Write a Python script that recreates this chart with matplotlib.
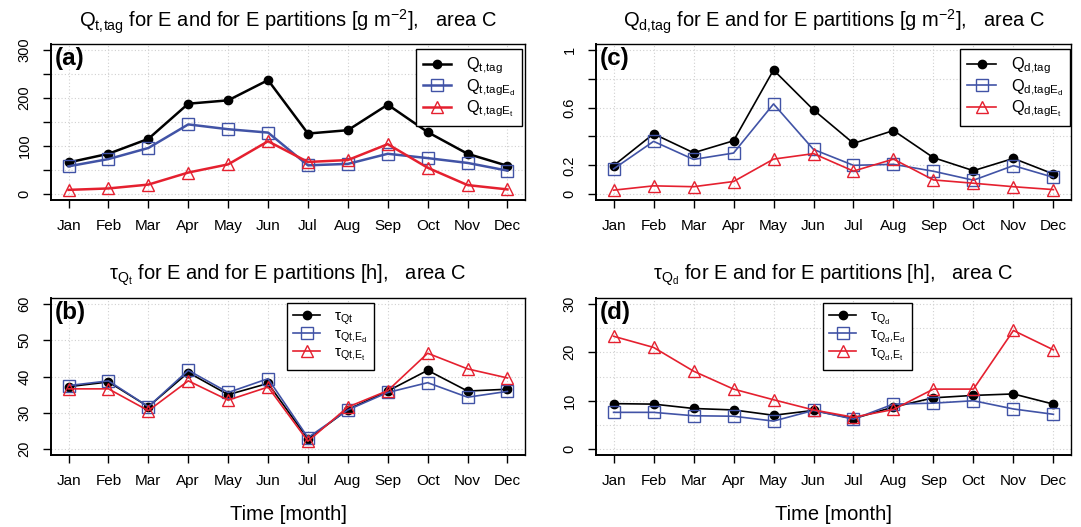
import matplotlib.pyplot as plt
import numpy as np

plt.rcParams['font.family'] = ['Liberation Sans', 'DejaVu Sans']
plt.rcParams['mathtext.fontset'] = 'custom'
plt.rcParams['mathtext.rm'] = 'Liberation Sans'
plt.rcParams['mathtext.it'] = 'Liberation Sans:italic'
plt.rcParams['mathtext.bf'] = 'Liberation Sans:bold'

months = ['Jan', 'Feb', 'Mar', 'Apr', 'May', 'Jun',
          'Jul', 'Aug', 'Sep', 'Oct', 'Nov', 'Dec']

# (a) total tagged water [g m-2]
qt_tag = [66, 84, 115, 188, 195, 237, 126, 133, 186, 129, 84, 59]
qt_tag_ed = [58, 73, 96, 145, 135, 128, 60, 63, 84, 75, 65, 49]
qt_tag_et = [9, 12, 20, 45, 62, 110, 67, 71, 104, 55, 19, 10]

# (c) tagged dust [g m-2]
qd_tag = [0.198, 0.418, 0.287, 0.370, 0.860, 0.584, 0.352, 0.441, 0.253, 0.163, 0.248, 0.140]
qd_tag_ed = [0.175, 0.366, 0.241, 0.285, 0.625, 0.310, 0.200, 0.207, 0.159, 0.097, 0.198, 0.117]
qd_tag_et = [0.028, 0.058, 0.052, 0.088, 0.243, 0.281, 0.160, 0.243, 0.099, 0.076, 0.052, 0.032]

# (b) residence time of Qt [h]
tau_qt = [37.2, 38.5, 31.7, 41.1, 35.0, 38.1, 22.8, 30.9, 36.0, 41.7, 36.0, 36.5]
tau_qt_ed = [37.5, 38.8, 31.7, 41.7, 35.6, 39.4, 23.2, 30.8, 35.6, 38.3, 34.3, 35.9]
tau_qt_et = [36.6, 36.6, 30.6, 38.8, 33.5, 37.1, 22.2, 31.6, 36.1, 46.4, 42.1, 39.6]

# (d) residence time of Qd [h]
tau_qd = [9.4, 9.3, 8.4, 8.1, 7.0, 8.0, 6.3, 8.7, 10.6, 11.1, 11.4, 9.3]
tau_qd_ed = [7.6, 7.6, 6.9, 6.8, 5.8, 8.0, 6.2, 9.3, 9.5, 10.0, 8.3, 7.2]
tau_qd_et = [23.3, 21.0, 16.1, 12.4, 10.2, 8.1, 6.6, 8.2, 12.4, 12.4, 24.5, 20.5]

BLUE = '#4153a6'
RED = '#e5202f'
W, H = 1081, 527


def make_axes(fig, x0, y0, x1, y1):
    # pixel box (top-left origin) -> figure fraction
    return fig.add_axes([x0 / W, (H - y1) / H, (x1 - x0) / W, (y1 - y0) / H])


def panel(ax, series, labels, lw, ylim, yticks, ylabels, ygrid, letter, title,
          leg_anchor, leg_loc, leg_size, xlabel=False):
    x = np.arange(1, 13)
    styles = [dict(color='black', marker='o', ms=6, mfc='black', mec='black'),
              dict(color=BLUE, marker='s', ms=8, mfc='none', mec=BLUE, mew=1),
              dict(color=RED, marker='^', ms=9, mfc='none', mec=RED, mew=1)]
    for y, lab, st in zip(series, labels, styles):
        ax.plot(x, y, lw=lw, label=lab, **st)

    for gx in x:
        ax.axvline(gx, color='#d0d0d0', lw=0.8, ls=(0, (1, 2)), zorder=0)
    for gy in ygrid:
        ax.axhline(gy, color='#d0d0d0', lw=0.8, ls=(0, (1, 2)), zorder=0)

    ax.set_xlim(0.56, 12.44)
    ax.set_ylim(*ylim)
    ax.set_xticks(x)
    ax.set_xticklabels(months)
    ax.set_yticks(yticks)
    ax.set_yticklabels(ylabels)
    plt.setp(ax.get_yticklabels(), rotation=90, va='center')
    ax.tick_params(direction='out', length=6, width=1, labelsize=11)
    ax.tick_params(axis='x', pad=8)
    ax.tick_params(axis='y', pad=8, labelsize=10.5)
    for side in ['top', 'right']:
        ax.spines[side].set_linewidth(1.0)
    for side in ['left', 'bottom']:
        ax.spines[side].set_linewidth(1.4)

    ax.text(0.008, 0.905, letter, transform=ax.transAxes, fontsize=17.5,
            fontweight='bold', ha='left', va='center')
    ax.text(0.5, 1.143, title, transform=ax.transAxes, fontsize=14.5,
            ha='center', va='center')
    if xlabel:
        ax.text(0.5, -0.376, 'Time [month]', transform=ax.transAxes,
                fontsize=14.5, ha='center', va='center')

    leg = ax.legend(loc=leg_loc, bbox_to_anchor=leg_anchor, borderaxespad=0,
                    fancybox=False, framealpha=1, edgecolor='black',
                    fontsize=leg_size, numpoints=1, handlelength=1.75,
                    labelspacing=0.05, borderpad=0.42, handletextpad=0.9)
    leg.get_frame().set_linewidth(1.0)


fig = plt.figure(figsize=(W / 100, H / 100), dpi=100)

ax_a = make_axes(fig, 51, 44, 525, 200)
ax_c = make_axes(fig, 596, 44, 1071, 200)
ax_b = make_axes(fig, 51, 298, 525, 455)
ax_d = make_axes(fig, 596, 298, 1071, 455)

panel(ax_a, [qt_tag, qt_tag_ed, qt_tag_et],
      [r'$\mathrm{Q}_{\mathrm{t,\!tag}}$', r'$\mathrm{Q}_{\mathrm{t,\!tagE}_\mathrm{d}}$',
       r'$\mathrm{Q}_{\mathrm{t,\!tagE}_\mathrm{t}}$'],
      1.8, (-12, 312), np.arange(0, 301, 50), ['0', '', '100', '', '200', '', '300'],
      np.arange(0, 301, 50), '(a)',
      r'$\mathrm{Q}_{\mathrm{t,\!tag}}$ for E and for E partitions [g m$^{-2}$],   area C',
      (0.994, 0.968), 'upper right', 11.8)

panel(ax_c, [qd_tag, qd_tag_ed, qd_tag_et],
      [r'$\mathrm{Q}_{\mathrm{d,\!tag}}$', r'$\mathrm{Q}_{\mathrm{d,\!tagE}_\mathrm{d}}$',
       r'$\mathrm{Q}_{\mathrm{d,\!tagE}_\mathrm{t}}$'],
      1.2, (-0.04, 1.04), np.arange(0, 1.01, 0.2), ['0', '0.2', '', '0.6', '', '1'],
      np.arange(0, 1.01, 0.2), '(c)',
      r'$\mathrm{Q}_{\mathrm{d,\!tag}}$ for E and for E partitions [g m$^{-2}$],   area C',
      (0.998, 0.968), 'upper right', 11.8)

panel(ax_b, [tau_qt, tau_qt_ed, tau_qt_et],
      [r'$\mathrm{\tau}_{\mathrm{Qt}}$', r'$\mathrm{\tau}_{\mathrm{Qt,\!E}_\mathrm{d}}$',
       r'$\mathrm{\tau}_{\mathrm{Qt,\!E}_\mathrm{t}}$'],
      1.2, (18.4, 61.6), np.arange(20, 61, 10), ['20', '30', '40', '50', '60'],
      np.arange(20, 61, 10), '(b)',
      r'$\mathrm{\tau}_{\mathrm{Q}_\mathrm{t}}$ for E and for E partitions [h],   area C',
      (0.498, 0.968), 'upper left', 11, xlabel=True)

panel(ax_d, [tau_qd, tau_qd_ed, tau_qd_et],
      [r'$\mathrm{\tau}_{\mathrm{Q}_\mathrm{d}}$', r'$\mathrm{\tau}_{\mathrm{Q}_\mathrm{d}\mathrm{,\!E}_\mathrm{d}}$',
       r'$\mathrm{\tau}_{\mathrm{Q}_\mathrm{d}\mathrm{,\!E}_\mathrm{t}}$'],
      1.2, (-1.2, 31.2), np.arange(0, 31, 10), ['0', '10', '20', '30'],
      np.arange(0, 31, 5), '(d)',
      r'$\mathrm{\tau}_{\mathrm{Q}_\mathrm{d}}$ for E and for E partitions [h],   area C',
      (0.478, 0.968), 'upper left', 11, xlabel=True)

fig.savefig('out.png', dpi=100)
